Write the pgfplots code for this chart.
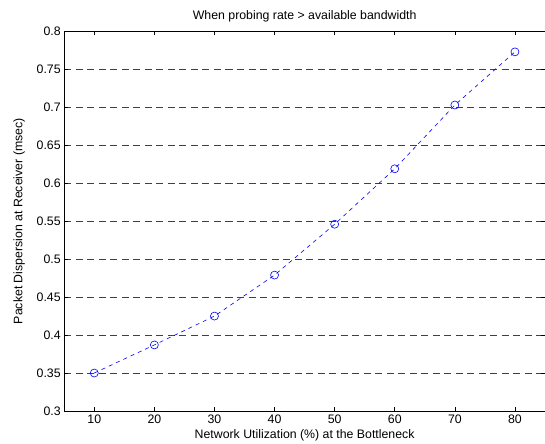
\documentclass[border=0pt]{standalone}
\usepackage{fontspec}
\setmainfont{Liberation Sans}
\usepackage{pgfplots}
\pgfplotsset{compat=1.18}

\begin{document}
\begin{tikzpicture}
\begin{axis}[scale only axis, width=480pt, height=379pt,
  xmin=5, xmax=85, ymin=0.3, ymax=0.8,
  xtick={10,20,...,80},
  ytick={0.3,0.35,...,0.81},
  yticklabels={0.3,0.35,0.4,0.45,0.5,0.55,0.6,0.65,0.7,0.75,0.8},
  tick align=inside, major tick length=4pt,
  tick style={black, line width=0.6pt},
  axis line style={black, line width=0.9pt},
  ymajorgrids,
  major grid style={black!75, dash pattern=on 7pt off 4.5pt, line width=0.8pt},
  font=\fontsize{12.3}{14}\selectfont,
  /pgf/number format/assume math mode=true,
  title={When probing rate > available bandwidth},
  title style={yshift=0pt},
  xlabel={Network Utilization (\%) at the Bottleneck},
  ylabel={Packet Dispersion at Receiver (msec)},
  xlabel style={yshift=1pt},
  ylabel style={yshift=5pt},
]
\addplot[blue, line width=0.6pt, dash pattern=on 4pt off 4pt, mark=o, mark size=4pt,
  mark options={solid, line width=0.6pt}]
  coordinates {(10,0.350)(20,0.387)(30,0.425)(40,0.479)(50,0.546)(60,0.619)(70,0.703)(80,0.773)};
\coordinate (AR) at (rel axis cs:1,1);
\end{axis}
\coordinate (BL) at (current axis.outer south west);
\coordinate (TR) at (current axis.outer north east -| AR);
\pgfresetboundingbox
\path[use as bounding box] ([xshift=-10pt]BL) rectangle ([yshift=7pt]TR);
\end{tikzpicture}
\end{document}
